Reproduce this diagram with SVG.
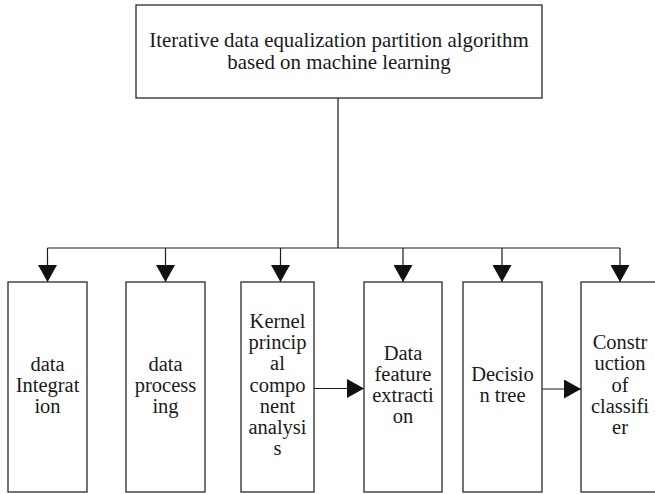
<svg xmlns="http://www.w3.org/2000/svg" width="655" height="494" viewBox="0 0 655 494">
  <defs>
    <style>
      .box { fill: #ffffff; stroke: #2a2a2a; stroke-width: 1.3; }
      .wire { fill: none; stroke: #1a1a1a; stroke-width: 1.2; }
      .arrow { fill: none; stroke: #1a1a1a; stroke-width: 1.2; marker-end: url(#head); }
      text { font-family: "Liberation Serif", "Times New Roman", serif; font-size: 20.5px; fill: #1a1a1a; text-anchor: middle; }
      .title { font-size: 20.9px; }
    </style>
    <marker id="head" viewBox="0 0 17 19" refX="17" refY="9.5" markerWidth="17" markerHeight="19" markerUnits="userSpaceOnUse" orient="auto">
      <path d="M0,0 L17,9.5 L0,19 Z" fill="#111111"/>
    </marker>
  </defs>
  <rect width="655" height="494" fill="#ffffff"/>

  <!-- connectors -->
  <g id="connectors">
    <line class="wire" x1="338" y1="98" x2="338" y2="248"/>
    <line class="wire" x1="47.5" y1="248" x2="620" y2="248"/>
    <line class="arrow" x1="47.5" y1="248" x2="47.5" y2="282"/>
    <line class="arrow" x1="165.5" y1="248" x2="165.5" y2="282"/>
    <line class="arrow" x1="280.5" y1="248" x2="280.5" y2="282"/>
    <line class="arrow" x1="403" y1="248" x2="403" y2="282"/>
    <line class="arrow" x1="502" y1="248" x2="502" y2="282"/>
    <line class="arrow" x1="620" y1="248" x2="620" y2="282"/>
    <line class="arrow" x1="314" y1="388.5" x2="364" y2="388.5"/>
    <line class="arrow" x1="542" y1="389" x2="581" y2="389"/>
  </g>

  <!-- root -->
  <g id="root">
    <rect class="box" x="136" y="5" width="406" height="93"/>
    <text class="title" x="339" y="47">Iterative data equalization partition algorithm</text>
    <text class="title" x="339" y="69">based on machine learning</text>
  </g>

  <g id="data-integration">
    <rect class="box" x="8" y="282" width="79" height="210"/>
    <text x="47.5" y="370.5">data</text>
    <text x="47.5" y="391.5">Integrat</text>
    <text x="47.5" y="412.5">ion</text>
  </g>

  <g id="data-processing">
    <rect class="box" x="126" y="282" width="79" height="210"/>
    <text x="165.5" y="370.5">data</text>
    <text x="165.5" y="391.5">process</text>
    <text x="165.5" y="412.5">ing</text>
  </g>

  <g id="kpca">
    <rect class="box" x="241" y="282" width="73" height="210"/>
    <text x="277.5" y="328">Kernel</text>
    <text x="277.5" y="349.2">princip</text>
    <text x="277.5" y="370.4">al</text>
    <text x="277.5" y="391.6">compo</text>
    <text x="277.5" y="412.8">nent</text>
    <text x="277.5" y="434">analysi</text>
    <text x="277.5" y="455.2">s</text>
  </g>

  <g id="feature-extraction">
    <rect class="box" x="364" y="282" width="78" height="210"/>
    <text x="403" y="359.7">Data</text>
    <text x="403" y="380.9">feature</text>
    <text x="403" y="402.1">extracti</text>
    <text x="403" y="423.3">on</text>
  </g>

  <g id="decision-tree">
    <rect class="box" x="463" y="282" width="79" height="210"/>
    <text x="502.5" y="380.9">Decisio</text>
    <text x="502.5" y="402.1">n tree</text>
  </g>

  <g id="classifier">
    <rect class="box" x="581" y="282" width="78" height="210"/>
    <text x="620" y="349.2">Constr</text>
    <text x="620" y="370.4">uction</text>
    <text x="620" y="391.6">of</text>
    <text x="620" y="412.8">classifi</text>
    <text x="620" y="434">er</text>
  </g>
</svg>
